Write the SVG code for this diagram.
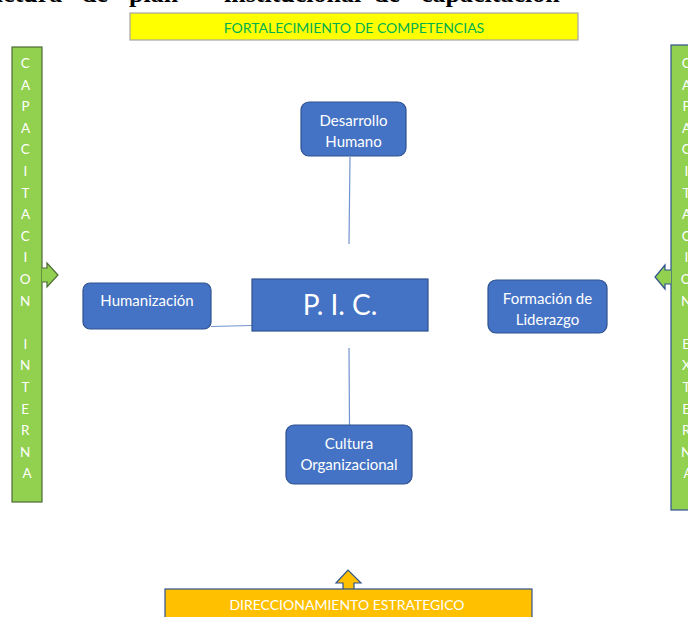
<svg xmlns="http://www.w3.org/2000/svg" width="688" height="617" viewBox="0 0 688 617">
  <style>
    .title { font-family: "Liberation Serif", "Times New Roman", serif; font-weight: bold; font-size: 26px; fill: #000; }
    .node rect { fill: #4472C4; stroke: #2F528F; stroke-width: 1.2; }
    .ntext { font-family: Lato, "Open Sans", sans-serif; font-size: 15px; fill: #fff; text-anchor: middle; }
    .bar { fill: #92D050; stroke: #4E6A35; stroke-width: 1.2; }
    .barR { fill: #92D050; stroke: #2F528F; stroke-width: 1.2; }
    .btext { font-family: Lato, "Open Sans", sans-serif; font-size: 13.5px; fill: #fff; text-anchor: middle; }
    .conn line { stroke: #7393D0; stroke-width: 1.2; }
  </style>

  <!-- heading, clipped at the top edge -->
  <text class="title" y="1.5"><tspan x="-59">Estructura</tspan><tspan x="82">de</tspan><tspan x="129">plan</tspan><tspan x="224">institucional</tspan><tspan x="374">de</tspan><tspan x="421">capacitación</tspan></text>

  <!-- top banner -->
  <g id="fortalecimiento">
    <rect x="130" y="13" width="448" height="27" fill="#FFFF00" stroke="#A6A6A6" stroke-width="1.2"/>
    <text x="354" y="32.5" font-family="Lato, 'Open Sans', sans-serif" font-size="14px" fill="#00B050" text-anchor="middle">FORTALECIMIENTO DE COMPETENCIAS</text>
  </g>

  <!-- left vertical bar with arrow -->
  <g id="capacitacion-interna">
    <rect class="bar" x="12" y="47" width="30" height="455"/>
    <path class="bar" d="M42 268 H47 V263 L58 275 L47 287 V282 H42"/>
    <text class="btext">
      <tspan x="27" y="68">C</tspan>
      <tspan x="27" y="89.5">A</tspan>
      <tspan x="27" y="111.1">P</tspan>
      <tspan x="27" y="132.7">A</tspan>
      <tspan x="27" y="154.3">C</tspan>
      <tspan x="27" y="175.9">I</tspan>
      <tspan x="27" y="197.5">T</tspan>
      <tspan x="27" y="219.1">A</tspan>
      <tspan x="27" y="240.7">C</tspan>
      <tspan x="27" y="262.3">I</tspan>
      <tspan x="27" y="283.9">O</tspan>
      <tspan x="27" y="305.5">N</tspan>
      <tspan x="27" y="348.7">I</tspan>
      <tspan x="27" y="370.3">N</tspan>
      <tspan x="27" y="391.9">T</tspan>
      <tspan x="27" y="413.5">E</tspan>
      <tspan x="27" y="435.1">R</tspan>
      <tspan x="27" y="456.7">N</tspan>
      <tspan x="27" y="478.3">A</tspan>
    </text>
  </g>

  <!-- right vertical bar with arrow -->
  <g id="capacitacion-externa">
    <rect class="barR" x="671" y="45" width="30" height="465"/>
    <path class="barR" d="M671 270 H665 V265 L655 277 L665 289 V284 H671"/>
    <text class="btext">
      <tspan x="688" y="68">C</tspan>
      <tspan x="688" y="89.5">A</tspan>
      <tspan x="688" y="111.1">P</tspan>
      <tspan x="688" y="132.7">A</tspan>
      <tspan x="688" y="154.3">C</tspan>
      <tspan x="688" y="175.9">I</tspan>
      <tspan x="688" y="197.5">T</tspan>
      <tspan x="688" y="219.1">A</tspan>
      <tspan x="688" y="240.7">C</tspan>
      <tspan x="688" y="262.3">I</tspan>
      <tspan x="688" y="283.9">O</tspan>
      <tspan x="688" y="305.5">N</tspan>
      <tspan x="688" y="348.7">E</tspan>
      <tspan x="688" y="370.3">X</tspan>
      <tspan x="688" y="391.9">T</tspan>
      <tspan x="688" y="413.5">E</tspan>
      <tspan x="688" y="435.1">R</tspan>
      <tspan x="688" y="456.7">N</tspan>
      <tspan x="688" y="478.3">A</tspan>
    </text>
  </g>

  <!-- connectors -->
  <g id="connectors" class="conn">
    <line x1="350" y1="157" x2="349" y2="244"/>
    <line x1="211" y1="326.5" x2="252" y2="325.5"/>
    <line x1="349" y1="348" x2="349.5" y2="425"/>
  </g>

  <g id="desarrollo-humano" class="node">
    <rect x="301" y="102" width="105" height="54" rx="8"/>
    <text class="ntext" x="353.5" y="126">Desarrollo</text>
    <text class="ntext" x="353.5" y="147">Humano</text>
  </g>

  <g id="humanizacion" class="node">
    <rect x="83" y="283" width="128" height="46" rx="7"/>
    <text class="ntext" x="147" y="305.5">Humanización</text>
  </g>

  <g id="pic" class="node">
    <rect x="252" y="279" width="176" height="52"/>
    <text x="340" y="314.5" font-family="Lato, 'Open Sans', sans-serif" font-size="28px" fill="#fff" text-anchor="middle">P. I. C.</text>
  </g>

  <g id="formacion-liderazgo" class="node">
    <rect x="488" y="280" width="119" height="53" rx="8"/>
    <text class="ntext" x="547.5" y="303.5">Formación de</text>
    <text class="ntext" x="547.5" y="324.5">Liderazgo</text>
  </g>

  <g id="cultura-organizacional" class="node">
    <rect x="286" y="425" width="126" height="59" rx="8"/>
    <text class="ntext" x="349" y="448.5">Cultura</text>
    <text class="ntext" x="349" y="469.5">Organizacional</text>
  </g>

  <!-- bottom banner with upward arrow -->
  <g id="direccionamiento">
    <path d="M343 589 V583 H336 L348 570 L361 583 H354 V589" fill="#FFC000" stroke="#2F528F" stroke-width="1.2"/>
    <rect x="165" y="589" width="367" height="40" fill="#FFC000" stroke="#2F528F" stroke-width="1.2"/>
    <text x="347" y="609.5" font-family="Lato, 'Open Sans', sans-serif" font-size="14px" fill="#fff" text-anchor="middle">DIRECCIONAMIENTO ESTRATEGICO</text>
  </g>
</svg>
